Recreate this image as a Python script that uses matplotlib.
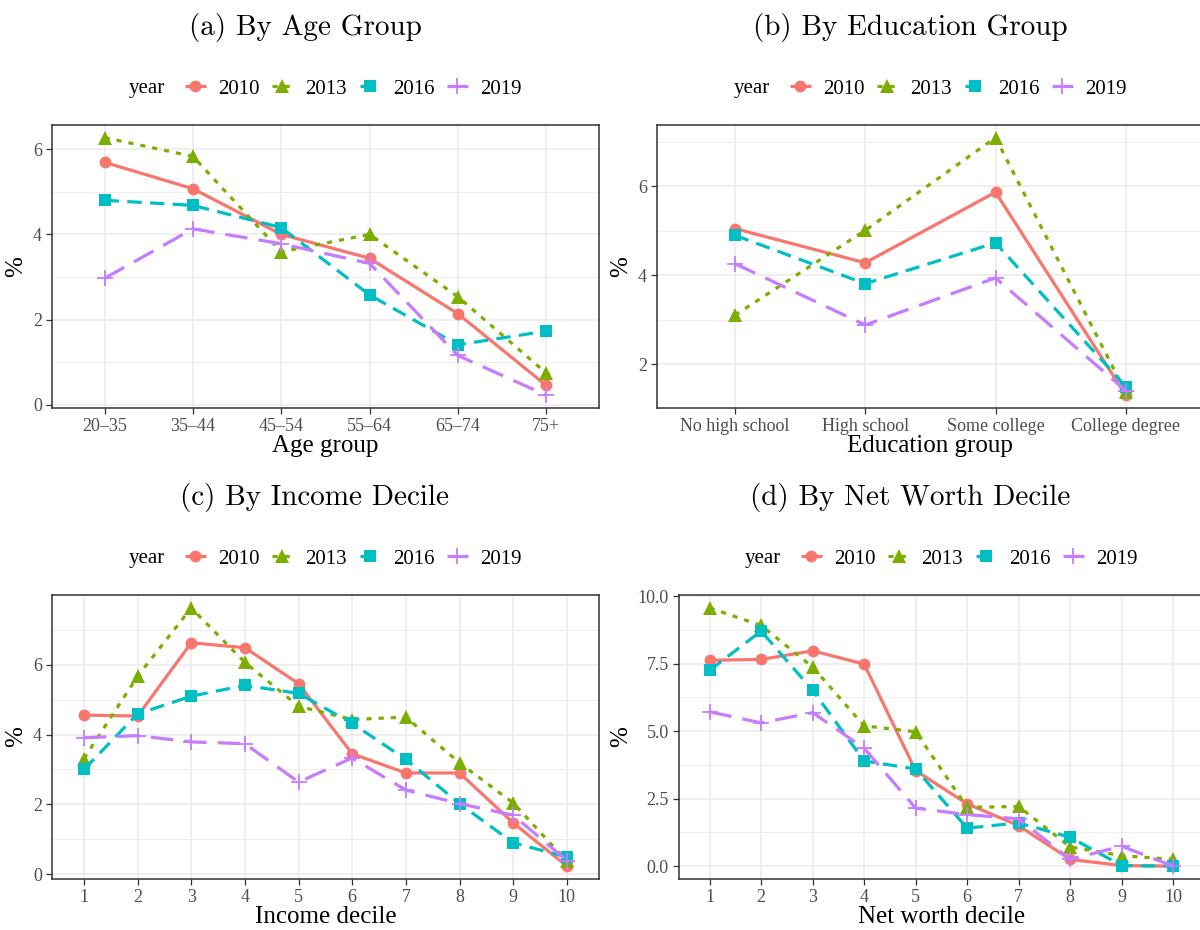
import matplotlib
matplotlib.use("Agg")
import matplotlib.pyplot as plt
from matplotlib.ticker import AutoMinorLocator, FixedLocator
from matplotlib.offsetbox import HPacker

# --- data ---
years = ["2010", "2013", "2016", "2019"]

age_groups = ["20\u201335", "35\u201344", "45\u201354", "55\u201364", "65\u201374", "75+"]
age_2010 = [5.69, 5.07, 4.00, 3.44, 2.14, 0.46]
age_2013 = [6.27, 5.83, 3.59, 4.00, 2.54, 0.75]
age_2016 = [4.80, 4.68, 4.16, 2.58, 1.41, 1.73]
age_2019 = [2.97, 4.13, 3.78, 3.32, 1.16, 0.23]

edu_groups = ["No high school", "High school", "Some college", "College degree"]
edu_2010 = [5.05, 4.28, 5.87, 1.30]
edu_2013 = [3.10, 5.01, 7.10, 1.36]
edu_2016 = [4.90, 3.81, 4.73, 1.49]
edu_2019 = [4.26, 2.88, 3.94, 1.40]

deciles = [str(d) for d in range(1, 11)]
inc_2010 = [4.56, 4.53, 6.63, 6.49, 5.46, 3.45, 2.90, 2.90, 1.47, 0.23]
inc_2013 = [3.31, 5.67, 7.63, 6.07, 4.81, 4.43, 4.50, 3.19, 2.04, 0.37]
inc_2016 = [3.00, 4.59, 5.10, 5.41, 5.18, 4.32, 3.29, 2.02, 0.90, 0.49]
inc_2019 = [3.91, 3.97, 3.79, 3.74, 2.64, 3.33, 2.41, 2.02, 1.69, 0.39]

nw_2010 = [7.63, 7.66, 7.98, 7.49, 3.54, 2.31, 1.50, 0.25, 0.02, 0.00]
nw_2013 = [9.57, 8.92, 7.38, 5.20, 4.98, 2.18, 2.21, 0.71, 0.39, 0.25]
nw_2016 = [7.26, 8.71, 6.52, 3.90, 3.60, 1.41, 1.60, 1.07, 0.02, 0.00]
nw_2019 = [5.72, 5.31, 5.69, 4.37, 2.15, 1.91, 1.75, 0.25, 0.74, 0.00]

# --- style ---
COLORS = ["#F8766D", "#7CAE00", "#00BFC4", "#C77CFF"]
MARKERS = ["o", "^", "s", "+"]
MSIZES = [8.5, 10, 8, 12]
DASHES = [None, (1.6, 2.2), (4.5, 2.6), (7, 3.5)]
SERIF = "Liberation Serif"
TICK_GREY = "#4D4D4D"

fig = plt.figure(figsize=(12, 9.3), dpi=100)


def title_left(leg):
    # put the legend title to the left of the keys, like ggplot's horizontal legend
    box = leg._legend_box
    title_box, handle_box = box.get_children()
    new = HPacker(pad=box.pad, sep=14, align="center", children=[title_box, handle_box])
    new.set_figure(leg.get_figure(root=False))
    new.axes = leg.axes
    new.set_offset(leg._findoffset)
    leg._legend_box = new


def panel(rect, cats, series, xlabel, yticks, ytick_labels):
    ax = fig.add_axes(rect)
    x = list(range(1, len(cats) + 1))
    handles = []
    for vals, col, mk, ms, ds, yr in zip(series, COLORS, MARKERS, MSIZES, DASHES, years):
        (ln,) = ax.plot(x, vals, color=col, lw=2.3, marker=mk, ms=ms,
                        mew=1.3 if mk == "+" else 0, solid_capstyle="butt",
                        dash_capstyle="butt", label=yr, zorder=3)
        if ds is not None:
            ln.set_dashes(ds)
        handles.append(ln)
    ax.set_xlim(0.4, len(cats) + 0.6)
    ax.margins(y=0.05)
    ax.set_xticks(x)
    ax.set_xticklabels(cats)
    ax.yaxis.set_major_locator(FixedLocator(yticks))
    ax.set_yticklabels(ytick_labels)
    ax.yaxis.set_minor_locator(AutoMinorLocator(2))
    ax.grid(True, which="major", color="#EBEBEB", lw=1.1, zorder=0)
    ax.grid(True, which="minor", axis="y", color="#EBEBEB", lw=0.6, zorder=0)
    ax.set_axisbelow(True)
    for s in ax.spines.values():
        s.set_color("#333333")
        s.set_linewidth(1.1)
    ax.tick_params(which="major", length=4, width=0.9, color="#333333",
                   labelsize=13, labelcolor=TICK_GREY, pad=3)
    ax.tick_params(which="minor", length=0)
    for lab in ax.get_xticklabels() + ax.get_yticklabels():
        lab.set_family(SERIF)
    ax.set_xlabel(xlabel, family=SERIF, fontsize=18, labelpad=0)
    ax.set_ylabel("%", family=SERIF, fontsize=18, labelpad=4)
    leg = ax.legend(handles=handles, loc="center", bbox_to_anchor=(0.5, 1.127),
                    ncol=4, frameon=False, title="year", handlelength=1.0,
                    handletextpad=0.6, columnspacing=0.6, borderaxespad=0,
                    prop={"family": SERIF, "size": 15},
                    title_fontproperties={"family": SERIF, "size": 15})
    title_left(leg)
    return ax


panel([0.0431, 0.5613, 0.4561, 0.3046], age_groups,
      [age_2010, age_2013, age_2016, age_2019], "Age group",
      [0, 2, 4, 6], ["0", "2", "4", "6"])
panel([0.5473, 0.5613, 0.4560, 0.3046], edu_groups,
      [edu_2010, edu_2013, edu_2016, edu_2019], "Education group",
      [2, 4, 6], ["2", "4", "6"])
panel([0.0431, 0.0548, 0.4561, 0.3054], deciles,
      [inc_2010, inc_2013, inc_2016, inc_2019], "Income decile",
      [0, 2, 4, 6], ["0", "2", "4", "6"])
panel([0.5656, 0.0548, 0.4378, 0.3054], deciles,
      [nw_2010, nw_2013, nw_2016, nw_2019], "Net worth decile",
      [0, 2.5, 5, 7.5, 10], ["0.0", "2.5", "5.0", "7.5", "10.0"])

titles = ["(a) By Age Group", "(b) By Education Group",
          "(c) By Income Decile", "(d) By Net Worth Decile"]
title_pos = [(305, 27), (910, 27), (315, 497), (910, 497)]
for t, (px, py) in zip(titles, title_pos):
    fig.text(px / 1200, 1 - py / 930, t, family="cmr10", fontsize=21,
             ha="center", va="center")

fig.savefig("out.png", dpi=100)
